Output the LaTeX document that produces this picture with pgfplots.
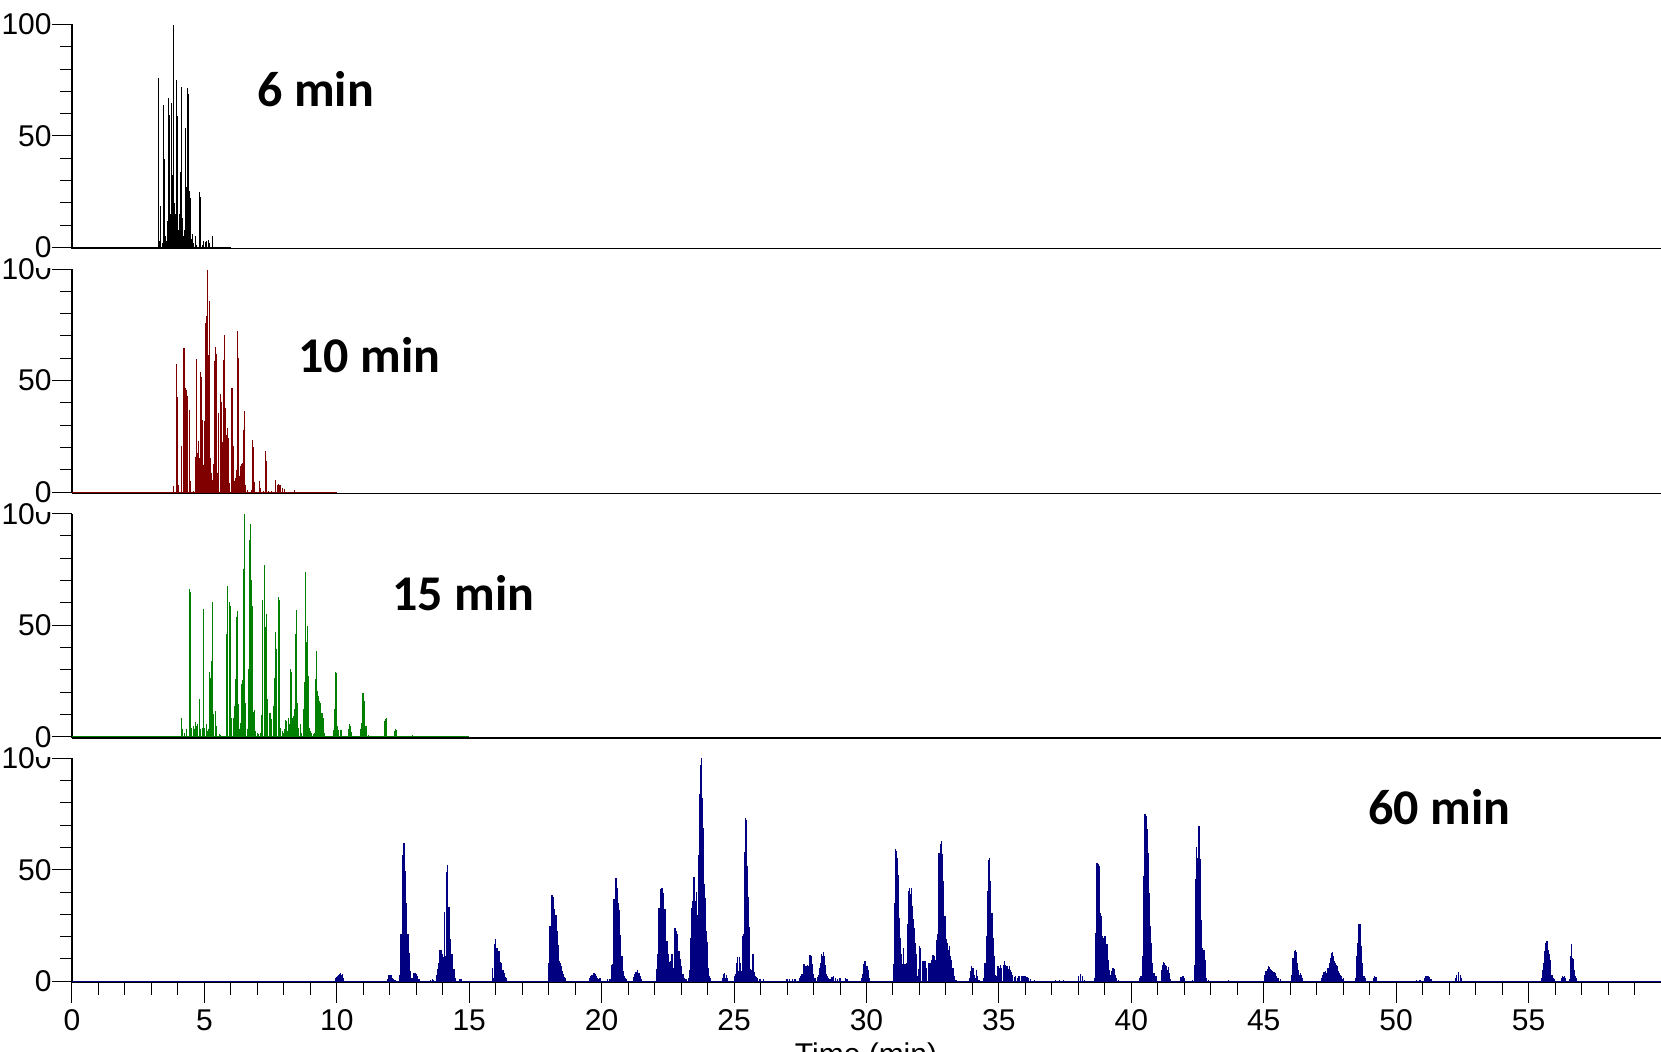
\documentclass[border=0pt]{standalone}
\usepackage{fontspec}
\setmainfont{Liberation Sans}
\newfontfamily\lblfont{Carlito}
\usepackage{pgfplots}
\pgfplotsset{compat=1.18}
\definecolor{cA}{RGB}{0,0,0}
\definecolor{cB}{RGB}{128,0,0}
\definecolor{cC}{RGB}{0,128,0}
\definecolor{cD}{RGB}{0,0,128}
\pgfplotsset{
  panel/.style={
    scale only axis, width=794.5pt, height=112.17pt,
    xmin=0, xmax=60, ymin=-0.6, ymax=100,
    axis x line=bottom, axis y line=left,
    axis line style={-, line width=0.6pt, black},
    x axis line style={-}, y axis line style={-},
    ytick={0,50,100}, minor ytick={10,20,30,40,60,70,80,90},
    tick align=outside, major tick length=10pt, minor tick length=6pt,
    every tick/.append style={black, line width=0.5pt},
    tick label style={font=\fontsize{15}{18}\selectfont},
    yticklabel style={fill=white, inner xsep=0pt, inner ysep=4.85pt},
    /pgf/number format/assume math mode=true,
    anchor=south west,
  },
  top/.style={xtick=\empty, minor xtick=\empty},
}
\begin{document}
\begin{tikzpicture}
% ---------- 60 min ----------
\begin{axis}[panel, at={(36pt,34.68pt)}, xtick={0,5,...,55}, minor xtick={0,1,...,59}]
\addplot[cD, line width=0.5pt, mark=none] coordinates {(0,0)(60,0)};
\addplot[ycomb, cD, line width=0.65pt, mark=none] coordinates {
(9.96,1.6)(9.99,2.0)(10.02,2.4)(10.06,2.6)(10.10,3.4)(10.13,3.9)(10.17,2.8)(10.21,3.1)(10.25,1.6)
(11.92,1.2)(11.96,2.7)(12.00,2.7)(12.04,2.7)(12.08,1.5)(12.13,1.0)(12.20,0.5)
(12.39,2.8)(12.42,21)(12.46,17.8)(12.50,56.5)(12.54,62.2)(12.57,49.5)(12.61,35.3)(12.65,16.3)(12.69,21)(12.72,12.9)(12.76,4.6)(12.80,1.3)(12.85,1.3)(12.90,3.9)(12.95,3.9)(13.00,3.1)(13.05,2.4)(13.10,0.9)
(13.55,0.6)(13.60,0.9)(13.65,0.6)
(13.77,2.7)(13.81,5.4)(13.85,8.4)(13.88,14.2)(13.92,13.9)(13.96,13.9)(14.00,12.4)(14.03,10.9)(14.07,31.1)(14.11,11.4)(14.15,49)(14.19,52)(14.23,33.3)(14.26,19.6)(14.30,19.1)(14.34,12.4)(14.38,12.1)(14.41,5.4)(14.45,5.4)(14.49,1.3)(14.65,0.9)(14.70,0.9)
(15.87,5.8)(15.91,1.3)(15.96,16.9)(16.00,18.8)(16.03,14.8)(16.07,14.8)(16.12,13.6)(16.15,10.6)(16.19,8.8)(16.23,8.4)(16.27,4.9)(16.31,3.9)(16.35,1.9)(16.40,1.3)
(17.98,4.6)(18.01,8.4)(18.05,24.8)(18.09,22.6)(18.13,38.7)(18.16,37.8)(18.20,32.3)(18.24,28.6)(18.28,29.6)(18.32,22.6)(18.35,16.3)(18.39,9.1)(18.43,8.4)(18.47,6.9)(18.50,4.6)(18.54,3.1)(18.58,1.9)(18.64,1.3)
(19.56,1.3)(19.60,2.2)(19.64,2.8)(19.68,3.4)(19.71,3.6)(19.75,3.1)(19.79,2.5)(19.83,1.6)(19.87,0.9)(19.94,1.6)(20.22,0.9)(20.32,0.9)
(20.39,7.3)(20.43,7.6)(20.47,36.8)(20.51,42.4)(20.54,46.5)(20.58,42)(20.62,35)(20.66,32)(20.69,20.6)(20.73,9.4)(20.77,11.4)(20.81,4.6)(20.84,2.4)(20.88,1.6)(20.94,0.9)
(21.22,1.9)(21.26,3.1)(21.30,4.3)(21.34,5.1)(21.37,3.9)(21.41,3.9)(21.45,2.4)(21.49,0.9)
(22.08,5.7)(22.13,12.4)(22.17,33)(22.21,39)(22.24,41.3)(22.28,41.7)(22.32,39.8)(22.36,32.3)(22.39,32.3)(22.43,17.8)(22.47,18.1)(22.51,12.4)(22.55,3.9)(22.58,8.8)(22.62,9.1)(22.66,12.4)(22.70,6.1)(22.74,18.1)(22.77,24.1)(22.81,22.6)(22.85,21.1)(22.89,13.6)(22.92,13.6)(22.96,9.9)(23.00,6.9)(23.04,2.4)(23.07,3.1)(23.11,1.3)(23.19,0.9)(23.28,1.3)
(23.31,4.9)(23.35,19.6)(23.39,33)(23.43,36)(23.47,46.9)(23.50,46.9)(23.54,36)(23.58,40.2)(23.61,29.6)(23.65,56.5)(23.69,84.2)(23.72,96.9)(23.76,100)(23.80,82.4)(23.84,68.6)(23.88,43.8)(23.91,37.5)(23.95,22.6)(23.99,17.6)(24.03,6.1)(24.06,2.4)(24.10,1.3)
(24.56,1.6)(24.60,3.1)(24.64,3.9)(24.68,1.6)(24.72,2.7)(24.75,1.3)
(25.02,2.4)(25.06,3.1)(25.10,8.4)(25.14,10.9)(25.17,4.6)(25.21,11.1)(25.25,8.4)(25.29,4.6)(25.33,20.3)(25.36,21.1)(25.40,58.1)(25.44,73.4)(25.48,72.2)(25.51,51.7)(25.55,37.8)(25.59,24.4)(25.63,5.4)(25.66,4.9)(25.71,12.1)(25.74,8.4)(25.78,4.3)(25.81,2.4)(25.85,1.9)(25.89,1.3)(25.98,0.9)(26.10,0.9)
(27.00,0.9)(27.10,0.9)(27.20,0.9)(27.30,0.9)
(27.49,1.3)(27.53,2.4)(27.57,3.4)(27.61,4.9)(27.64,7.6)(27.68,6.1)(27.72,6.9)(27.76,7.3)(27.79,6.9)(27.83,2.4)(27.87,11.7)(27.91,11.4)(27.95,7.6)(27.98,3.1)(28.02,1.6)(28.06,1.6)
(28.15,1.9)(28.19,2.8)(28.22,6.1)(28.26,8.4)(28.30,12.4)(28.34,11.4)(28.38,13.3)(28.41,11.4)(28.45,7.3)(28.49,3.1)(28.53,2.4)(28.56,1.3)(28.62,0.9)(28.70,1.9)(28.76,2.4)(28.83,1.3)(28.90,0.9)(29.00,1.3)(29.20,1.3)(29.26,0.9)
(29.83,1.3)(29.87,3.1)(29.91,7.9)(29.94,9.1)(29.98,5.4)(30.02,6.9)(30.06,4.9)(30.09,1.6)
(31.03,7.6)(31.06,35.3)(31.09,59.5)(31.13,58.4)(31.17,55.5)(31.21,47.7)(31.24,28.6)(31.28,19.6)(31.32,12.1)(31.36,7.6)(31.39,15.1)(31.43,7.6)(31.47,7.9)(31.51,8.4)(31.55,25.6)(31.58,40.5)(31.62,42)(31.66,39)(31.70,42)(31.73,33.8)(31.77,27.8)(31.81,24.1)(31.85,17.3)(31.89,12.1)(31.92,2.4)(31.96,5.4)(32.00,15.8)
(32.05,15)(32.11,9)(32.17,9)(32.22,9)(32.27,6)(32.34,8.2)(32.40,8.2)(32.46,9.7)(32.51,12)(32.56,11.2)(32.60,9.7)(32.66,18.7)(32.70,21)(32.74,57.6)(32.79,61.4)(32.83,62.9)(32.87,56.9)(32.92,44.9)(32.96,29.2)(33.01,19)(33.05,17.2)(33.09,14.2)(33.13,15.7)(33.18,11.2)(33.22,9.7)(33.27,6)(33.31,2.2)(33.38,0.7)
(33.89,1.5)(33.93,4.5)(33.97,6.7)(34.02,6)(34.06,3)(34.12,1.5)(34.15,5.2)(34.19,2.2)(34.25,0.7)
(34.44,1.5)(34.48,8.2)(34.52,20.2)(34.57,40.4)(34.61,54.6)(34.65,55.4)(34.69,44.9)(34.74,30.7)(34.78,19.5)(34.82,11.2)(34.87,3)(34.91,2.2)(34.97,6.7)(35.01,6)(35.06,7.5)(35.11,6)(35.16,7.5)(35.20,9)(35.24,7.5)(35.30,6.7)(35.35,5.5)(35.39,6.7)(35.43,5.2)(35.47,4)(35.52,3)(35.58,2)(35.63,2.2)(35.69,1.5)(35.76,2.5)(35.84,2.2)(35.91,2.2)(35.98,2.2)(36.06,2)(36.13,1.5)(36.20,1)(36.35,0.5)
(37.14,0.7)(37.29,0.7)(37.44,0.7)
(38.00,2.2)(38.08,3.4)(38.15,2.2)(38.22,0.7)
(38.61,1.5)(38.65,21.7)(38.70,53.1)(38.74,52.4)(38.79,51.9)(38.83,30.7)(38.87,29.2)(38.91,20.2)(38.96,19.5)(39.00,20.2)(39.05,16.5)(39.09,16.5)(39.13,9.7)(39.18,5.2)(39.22,3)(39.26,4.5)(39.31,6)(39.35,5.5)(39.39,3)(39.45,1.5)(39.52,0.7)
(40.32,1.5)(40.37,2.2)(40.43,11.2)(40.48,47.2)(40.52,74.9)(40.56,74.1)(40.61,68.1)(40.65,57.6)(40.69,39.7)(40.73,24.7)(40.77,17.2)(40.81,8.2)(40.86,3.7)(40.92,2.2)(40.96,2.2)
(41.13,5.2)(41.17,7.5)(41.21,8.7)(41.25,8.2)(41.28,7.5)(41.32,6.7)(41.36,5.2)(41.40,6.4)(41.44,3.7)(41.49,1.0)
(41.88,1.8)(41.92,2.5)(41.97,2.2)(42.02,1.5)(42.30,0.7)
(42.38,7.5)(42.44,45.7)(42.47,60)(42.51,55.5)(42.55,69.7)(42.59,54.7)(42.62,37.5)(42.66,27.7)(42.70,15)(42.74,14.2)(42.78,9.7)(42.81,5.2)(42.85,1.5)(42.91,0.7)
(43.67,0.7)
(45.05,3)(45.09,4.5)(45.13,5.5)(45.17,6.7)(45.21,6.4)(45.25,5.5)(45.28,5.2)(45.32,4.5)(45.36,4)(45.40,4)(45.44,3.7)(45.47,2.2)(45.51,1.5)(45.56,1.5)(45.62,1)
(46.07,3)(46.11,10.5)(46.15,13.5)(46.19,14.2)(46.22,13)(46.26,8.2)(46.30,5.2)(46.34,3)(46.38,3.7)(46.41,3)(46.46,1.5)
(47.19,1.5)(47.24,3)(47.28,4)(47.32,4.5)(47.36,3.7)(47.40,4)(47.43,6)(47.47,8.2)(47.51,10.5)(47.55,12.7)(47.59,13)(47.62,11.2)(47.66,9)(47.70,8.2)(47.74,7.5)(47.78,6.7)(47.81,4.5)(47.85,3.7)(47.89,3)(47.93,2.2)(47.96,1)(48.01,1.5)
(48.48,1.5)(48.51,11.2)(48.55,17.2)(48.59,25.5)(48.63,25.9)(48.66,24.7)(48.70,15.7)(48.74,8.2)(48.78,2.2)(48.82,1.5)
(49.14,1.5)(49.19,2.5)(49.24,2)
(50.78,0.7)(50.90,0.7)
(51.07,1.5)(51.13,2.5)(51.20,2.5)(51.26,1.8)(51.32,1)
(52.23,1.5)(52.29,3)(52.35,4)(52.42,3)(52.48,1.5)
(55.50,1.5)(55.54,5.2)(55.58,8.2)(55.62,13.5)(55.65,17.2)(55.69,18)(55.73,14.2)(55.77,12.4)(55.81,9.7)(55.84,6)(55.88,3)(55.92,1.5)(55.97,1)
(56.25,1.5)(56.29,2.5)(56.33,2)(56.36,2.5)(56.40,1.5)
(56.54,1)(56.58,11.2)(56.62,16.5)(56.66,10.5)(56.70,10)(56.73,5.2)(56.77,2.2)(56.82,1.5)
};
\end{axis}
% ---------- 15 min ----------
\begin{axis}[panel, top, at={(36pt,156.98pt)}]
\addplot[cC, line width=0.5pt, mark=none] coordinates {(0,0)(15,0)};
\addplot[ycomb, cC, line width=0.5pt, mark=none] coordinates {
(4.14,8.5)(4.18,3.3)(4.25,1.5)(4.32,3.3)(4.42,66.3)(4.46,64.8)(4.49,8.5)(4.53,4)(4.58,4.8)(4.62,3.3)(4.66,6.7)(4.70,4.8)(4.75,5.5)(4.80,16.8)(4.83,15.3)(4.87,3.3)(4.91,4)(4.95,57.3)(4.98,50)(5.02,4)(5.07,5.5)(5.11,2.5)(5.15,3.3)(5.19,28.8)(5.22,26.2)(5.26,34)(5.30,60.3)(5.32,50.5)(5.36,10)(5.40,11.5)(5.46,4.8)(5.56,1)(5.61,0.8)
(5.82,46)(5.85,39.3)(5.89,67.5)(5.93,60.3)(5.97,58.8)(6.00,17.5)(6.04,8.5)(6.09,8.5)(6.13,13.8)(6.17,25.8)(6.21,53.5)(6.24,56.5)(6.28,14.5)(6.32,3.3)(6.36,6.3)(6.39,23.5)(6.43,25.5)(6.46,75.3)(6.50,100)(6.53,12.3)(6.57,15.3)(6.61,3.3)(6.66,30.3)(6.70,88.3)(6.73,95.5)(6.77,70.3)(6.81,58.8)(6.85,11)(6.89,11.8)(6.94,2.5)(7.00,1.5)(7.06,1)(7.10,1.5)(7.14,9.6)(7.18,8.5)
(7.21,61.5)(7.25,77)(7.29,49)(7.33,55)(7.36,9.3)(7.40,16.8)(7.44,10.5)(7.48,7)(7.51,10.8)(7.55,7.8)(7.59,13.8)(7.63,26.5)(7.67,15.3)(7.70,47)(7.74,39.3)(7.78,62.5)(7.82,61.3)(7.85,12.3)(7.89,3.7)(7.94,2.5)(7.98,1.5)(8.02,3.3)(8.06,7.5)(8.09,7)(8.13,2.5)(8.17,8.5)(8.21,5.5)(8.25,30.3)(8.28,29.2)(8.32,8.5)(8.36,9.3)(8.40,12.3)(8.43,46)(8.46,56.8)(8.50,15.3)(8.53,14.5)(8.57,4)(8.61,5.5)(8.66,1.8)
(8.74,12.3)(8.77,24.3)(8.81,74)(8.85,42.6)(8.89,49.8)(8.92,27.3)(8.96,4)(9.00,2.5)(9.05,1.5)(9.13,1)(9.16,1.8)(9.20,25.8)(9.24,38.2)(9.28,20.5)(9.32,18.3)(9.35,16)(9.39,15.3)(9.42,10.8)(9.45,10.5)(9.49,8.5)(9.54,1.8)(9.68,0.3)
(9.87,2.8)(9.91,12.6)(9.94,28.8)(9.98,28.5)(10.02,4.8)(10.06,3)(10.15,3)(10.18,3)(10.45,3.3)(10.49,5.5)(10.52,4.8)(10.56,2)
(10.90,3.3)(10.94,6.3)(10.98,19.5)(11.01,19.5)(11.05,16)(11.09,4.8)(11.13,4.8)(11.19,0.8)
(11.80,7)(11.83,7.8)(11.87,8.5)(12.17,2.5)(12.21,3.3)(12.25,2.8)(12.85,0.8)
};
\end{axis}
% ---------- 10 min ----------
\begin{axis}[panel, top, at={(36pt,279.28pt)}]
\addplot[cB, line width=0.5pt, mark=none] coordinates {(0,0)(10,0)};
\addplot[ycomb, cB, line width=0.5pt, mark=none] coordinates {
(3.85,2.8)(3.94,57.5)(3.98,42.7)(4.02,3)(4.12,20.8)(4.15,18.2)(4.20,64.7)(4.24,64.7)(4.27,46.6)(4.31,20.8)(4.34,45.7)(4.38,42.9)(4.42,36.9)(4.46,5)(4.49,5)(4.59,0.5)
(4.66,15.7)(4.70,59.6)(4.73,17.5)(4.77,22.7)(4.81,15.2)(4.85,54)(4.88,51.4)(4.92,32.4)(4.96,12.3)(5.01,32)(5.04,76)(5.07,78.8)(5.11,99.7)(5.15,61.3)(5.19,85.8)(5.22,15.2)(5.28,8.5)(5.31,5.5)(5.35,12.5)(5.38,58.9)(5.41,64.9)(5.45,61.9)(5.49,8.5)
(5.55,35.4)(5.59,44)(5.63,40.4)(5.68,22.4)(5.71,59.3)(5.75,70.5)(5.79,37.7)(5.84,25.7)(5.87,28.7)(5.90,24.2)(5.94,4)(6.02,46.6)(6.05,46.6)(6.09,20.5)(6.13,4.8)(6.17,6.3)(6.21,10)(6.24,72.3)(6.28,60)(6.32,7)(6.37,11.5)(6.41,12.5)(6.43,13)(6.47,28)(6.51,36.2)(6.57,3)(6.63,1)
(6.76,1)(6.81,23.5)(6.85,20)(6.91,4.5)(7.07,4.8)(7.11,2)(7.23,0.6)(7.30,18.2)(7.34,13.8)(7.41,0.6)(7.52,0.6)(7.67,2.5)(7.70,5.5)(7.75,3.3)(7.79,3.7)(7.84,3)(7.89,3.3)(7.96,1.8)(8.04,1.2)(8.39,0.8)
};
\end{axis}
% ---------- 6 min ----------
\begin{axis}[panel, top, at={(36pt,401.58pt)}]
\addplot[cA, line width=0.5pt, mark=none] coordinates {(0,0)(6,0)};
\addplot[ycomb, cA, line width=0.5pt, mark=none] coordinates {
(3.26,76)(3.285,25)(3.32,3)(3.36,18.7)(3.40,2)(3.44,64)(3.47,52.7)(3.50,39.6)(3.53,5)(3.57,3)(3.60,12)(3.64,67)(3.68,59.4)(3.71,15)(3.74,64.6)(3.78,32.5)(3.80,10)(3.83,99.7)(3.85,95.2)(3.88,20)(3.92,15)(3.95,75)(3.99,59)(4.02,8)(4.05,15)(4.08,34)(4.12,71.8)(4.15,51.6)(4.19,13)(4.22,5)(4.25,8)(4.28,53.4)(4.32,27.3)(4.37,71.3)(4.39,68.7)(4.43,25.4)(4.46,22)(4.49,8)(4.53,4)(4.56,6)(4.60,2)(4.66,5)(4.71,1)(4.83,24.8)(4.87,22.5)(4.92,1)(4.96,3)(5.03,2.5)(5.09,3)(5.16,3.5)(5.21,2)(5.30,5)
};
\end{axis}
% ---------- labels ----------
\node[anchor=base west, inner sep=0pt, font={\fontsize{25}{29}\selectfont\lblfont\bfseries}] at (128.5pt,472.5pt) {6 min};
\node[anchor=base west, inner sep=0pt, font={\fontsize{25}{29}\selectfont\lblfont\bfseries}] at (149pt,339.5pt) {10 min};
\node[anchor=base west, inner sep=0pt, font={\fontsize{25}{29}\selectfont\lblfont\bfseries}] at (196pt,220.65pt) {15 min};
\node[anchor=base west, inner sep=0pt, font={\fontsize{25}{29}\selectfont\lblfont\bfseries}] at (684pt,113.5pt) {60 min};
\node[anchor=base, inner sep=0pt, font={\fontsize{15}{18}\selectfont}] at (433pt,-6.25pt) {Time (min)};
\pgfresetboundingbox
\path[use as bounding box] (0,0) rectangle (830.5pt,526pt);
\end{tikzpicture}
\end{document}
